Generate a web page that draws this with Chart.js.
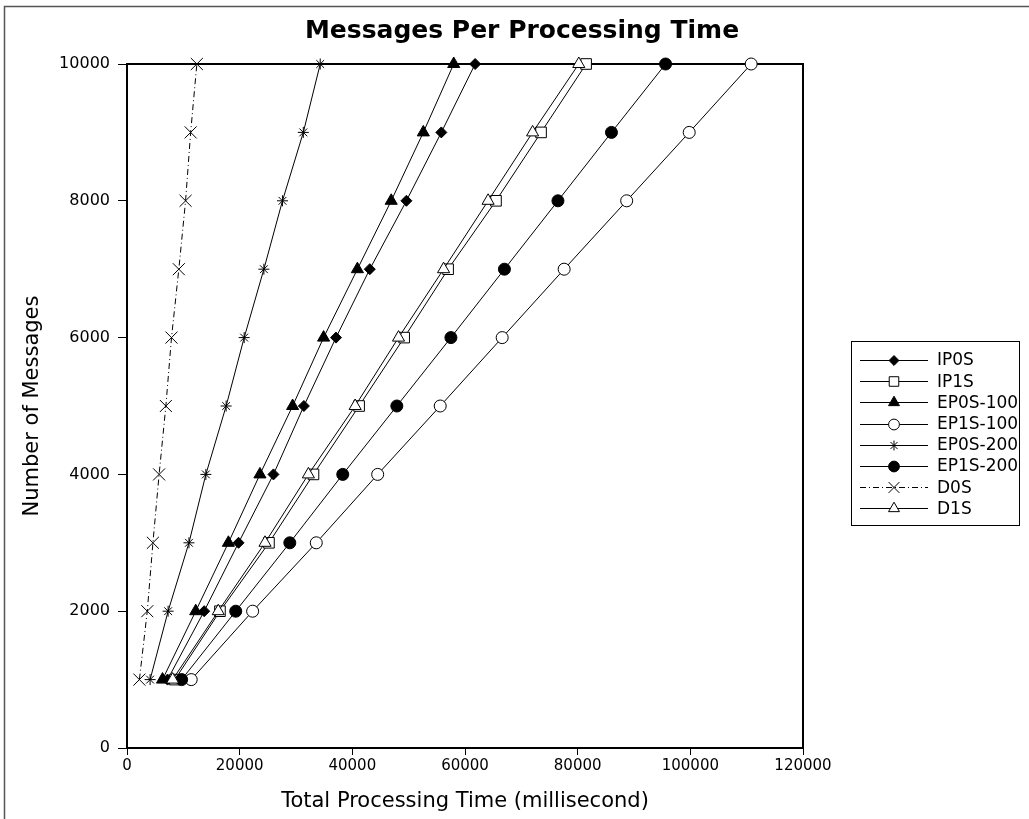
<!DOCTYPE html>
<html><head><meta charset="utf-8">
<script src="https://cdn.jsdelivr.net/npm/chart.js@4.4.1/dist/chart.umd.min.js"></script>
<style>html,body{margin:0;padding:0;background:#fff;}#wrap{position:relative;width:1029px;height:819px;}</style>
</head><body><div id="wrap"><canvas id="c" width="1029" height="819"></canvas></div>
<script>
// ---- data ----
const messages = [1000, 2000, 3000, 4000, 5000, 6000, 7000, 8000, 9000, 10000];
const ip0s    = [7200, 13700, 19800, 26000, 31400, 37100, 43100, 49600, 55800, 61800];
const ip1s    = [8500, 16500, 25200, 33100, 41200, 49200, 57000, 65500, 73500, 81500];
const ep0s100 = [6300, 12200, 18000, 23600, 29400, 34900, 40900, 46900, 52600, 58000];
const ep1s100 = [11400, 22300, 33600, 44500, 55600, 66600, 77600, 88700, 99800, 110800];
const ep0s200 = [4100, 7300, 11000, 14000, 17600, 20800, 24300, 27600, 31300, 34300];
const ep1s200 = [9700, 19300, 28900, 38300, 47900, 57500, 67000, 76500, 86000, 95600];
const d0s     = [2200, 3600, 4600, 5700, 6900, 7900, 9200, 10400, 11300, 12400];
const d1s     = [8100, 16200, 24500, 32200, 40500, 48200, 56200, 64100, 72000, 80200];
const seriesNames = ['IP0S', 'IP1S', 'EP0S-100', 'EP1S-100', 'EP0S-200', 'EP1S-200', 'D0S', 'D1S'];
const seriesValues = [ip0s, ip1s, ep0s100, ep1s100, ep0s200, ep1s200, d0s, d1s];
const titleText = 'Messages Per Processing Time';
const xTitle = 'Total Processing Time (millisecond)';
const yTitle = 'Number of Messages';

// ---- styles ----
const styles = [
  {ps: 'rectRot', r: 5.5, fill: '#000', dash: []},
  {ps: 'rect', r: 7.5, fill: '#fff', dash: []},
  {ps: 'triangle', r: 7, fill: '#000', dash: []},
  {ps: 'circle', r: 6, fill: '#fff', dash: []},
  {ps: 'star', r: 5.5, fill: '#000', dash: []},
  {ps: 'circle', r: 6, fill: '#000', dash: []},
  {ps: 'crossRot', r: 8.5, fill: '#000', dash: [6, 3, 1, 3]},
  {ps: 'triangle', r: 7, fill: '#fff', dash: []}
];
const FONT = 'DejaVu Sans';

const datasets = seriesNames.map((name, i) => ({
  label: name,
  data: messages.map((m, j) => ({x: seriesValues[i][j], y: m})),
  showLine: true,
  borderColor: '#000',
  borderWidth: 1,
  borderDash: styles[i].dash,
  pointStyle: styles[i].ps,
  pointRadius: styles[i].r,
  pointBackgroundColor: styles[i].fill,
  pointBorderColor: '#000',
  pointBorderWidth: 1,
  order: seriesNames.length - i,
  clip: false
}));

const framePlugin = {
  id: 'frame',
  beforeDraw(chart) {
    const ctx = chart.ctx;
    ctx.save();
    ctx.fillStyle = '#fff';
    ctx.fillRect(0, 0, chart.width, chart.height);
    ctx.strokeStyle = '#555';
    ctx.lineWidth = 1.5;
    ctx.beginPath();
    ctx.moveTo(4.5, chart.height + 2);
    ctx.lineTo(4.5, 6.5);
    ctx.lineTo(chart.width + 2, 6.5);
    ctx.stroke();
    ctx.restore();
  },
  beforeDatasetsDraw(chart) {
    const a = chart.chartArea, ctx = chart.ctx;
    ctx.save();
    ctx.strokeStyle = '#000';
    ctx.lineWidth = 2;
    ctx.beginPath();
    ctx.moveTo(a.left, a.top);
    ctx.lineTo(a.right, a.top);
    ctx.lineTo(a.right, a.bottom);
    ctx.stroke();
    ctx.restore();
  },
  afterDraw(chart) {
    const ctx = chart.ctx;
    ctx.save();
    // title
    ctx.fillStyle = '#000';
    ctx.font = 'bold 25px "' + FONT + '"';
    ctx.textAlign = 'center';
    ctx.textBaseline = 'middle';
    ctx.fillText(titleText, 522, 31);
    // legend
    const bx = 851.5, by = 341.5, bw = 168, bh = 184;
    ctx.strokeStyle = '#000';
    ctx.lineWidth = 1;
    ctx.strokeRect(bx, by, bw, bh);
    ctx.font = '17px "' + FONT + '"';
    ctx.textAlign = 'left';
    seriesNames.forEach((name, i) => {
      const y = 360 + i * 21.2;
      ctx.save();
      ctx.strokeStyle = '#000';
      ctx.lineWidth = 1;
      ctx.setLineDash(styles[i].dash);
      ctx.beginPath();
      ctx.moveTo(860, Math.round(y) + 0.5);
      ctx.lineTo(928, Math.round(y) + 0.5);
      ctx.stroke();
      ctx.restore();
      ctx.save();
      ctx.fillStyle = styles[i].fill;
      ctx.strokeStyle = '#000';
      ctx.lineWidth = 1;
      Chart.helpers.drawPoint(ctx, {pointStyle: styles[i].ps, radius: styles[i].r * 0.9, rotation: 0, borderWidth: 1}, 894, Math.round(y) + 0.5);
      ctx.restore();
      ctx.fillStyle = '#000';
      ctx.fillText(name, 937, y + 1);
    });
    ctx.restore();
  }
};

new Chart(document.getElementById('c'), {
  type: 'scatter',
  data: {datasets},
  plugins: [framePlugin],
  options: {
    responsive: false,
    animation: false,
    devicePixelRatio: 1,
    layout: {padding: {left: 0, right: 226, top: 64, bottom: 0}},
    plugins: {legend: {display: false}, title: {display: false}, tooltip: {enabled: false}},
    scales: {
      x: {
        type: 'linear', min: 0, max: 120000,
        ticks: {stepSize: 20000, color: '#000', font: {family: FONT, size: 15}, padding: 2, maxRotation: 0, callback: v => String(v)},
        grid: {drawOnChartArea: false, drawTicks: true, tickLength: 7, color: '#000', tickWidth: 1},
        border: {display: true, color: '#000', width: 2},
        title: {display: true, text: xTitle, color: '#000', font: {family: FONT, size: 21}, padding: {top: 0, bottom: 5}},
        afterFit(s) { s.height = 71; }
      },
      y: {
        type: 'linear', min: 0, max: 10000,
        ticks: {stepSize: 2000, color: '#000', font: {family: FONT, size: 16}, padding: 8, callback: v => String(v)},
        grid: {drawOnChartArea: false, drawTicks: true, tickLength: 9, color: '#000', tickWidth: 1},
        border: {display: true, color: '#000', width: 2},
        title: {display: true, text: yTitle, color: '#000', font: {family: FONT, size: 21}, padding: {top: 20, bottom: 0}},
        afterFit(s) { s.width = 127; }
      }
    }
  }
});
</script>
</body></html>
